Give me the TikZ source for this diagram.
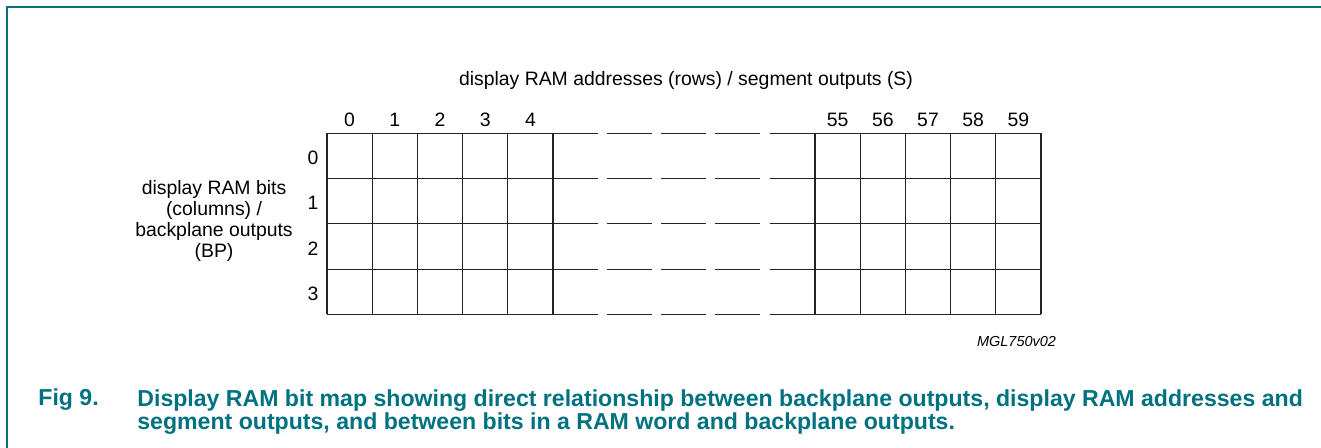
\documentclass[tikz,border=0pt]{standalone}
\usepackage{fontspec}
\setmainfont{Liberation Sans}
\usepackage{tikz}
\usetikzlibrary{calc,positioning}

\definecolor{capteal}{RGB}{0,113,128}
\definecolor{gridgray}{RGB}{35,35,35}

\tikzset{
  gridline/.style={draw=gridgray,line width=0.6pt},
  lbl/.style={inner sep=0pt,font=\fontsize{9.7}{10.4}\selectfont},
  caption/.style={inner sep=0pt,text=capteal,align=left,
                  font=\bfseries\fontsize{11.55}{10.6}\selectfont},
}

\begin{document}
\begin{tikzpicture}[x=0.5pt,y=-0.5pt]

  \useasboundingbox (0,0) rectangle (1321,448) ;
%
  \draw [capteal,line width=1pt] (1321,7) -- (7,7) -- (7,448) ;
%
  % grid: rows 0..3, columns 0..4 and 55..59
  \foreach \r in {0,...,4} {
    \draw [gridline] (327,{133.3+45.3*\r}) -- (598,{133.3+45.3*\r}) ;
    \foreach \d in {0,1,2}
      \draw [gridline] ({607+54*\d},{133.3+45.3*\r}) -- ++(45,0) ;
    \draw [gridline] (769.7,{133.3+45.3*\r}) -- (1041,{133.3+45.3*\r}) ;
  }
  \foreach \k in {0,...,5} {
    \draw [gridline] ({327+45.2*\k},133.3) -- ({327+45.2*\k},314.5) ;
    \draw [gridline] ({815+45.2*\k},133.3) -- ({815+45.2*\k},314.5) ;
  }
%
  \foreach \c in {0,...,4}
    \node [lbl,anchor=base] (col\c) at ({349.6+45.2*\c},127) {\c} ;
  \foreach \c [count=\i from 0] in {55,...,59}
    \node [lbl,anchor=base] (col\c) at ({837.6+45.2*\i},127) {\c} ;
  \foreach \r in {0,...,3}
    \node [lbl] (row\r) at (313,{158+45.3*\r}) {\r} ;
%
  \node [lbl,anchor=base] (addr) at (686,86)
        {display RAM addresses (rows) / segment outputs (S)} ;
  \node [lbl,align=center] (bits) at (214,221)
        {display RAM bits\\(columns) /\\backplane outputs\\(BP)} ;
  \node [inner sep=0pt,anchor=base,font=\itshape\fontsize{7.25}{8}\selectfont]
        (code) at (1016.5,346.5) {MGL750v02} ;
%
  \node [caption,anchor=base west] (fig) at (38,405) {Fig 9.} ;
  \node [caption,anchor=north west] (captxt) at (137,389)
        {Display RAM bit map showing direct relationship between backplane outputs, display RAM addresses and\\
         segment outputs, and between bits in a RAM word and backplane outputs.} ;

\end{tikzpicture}
\end{document}
